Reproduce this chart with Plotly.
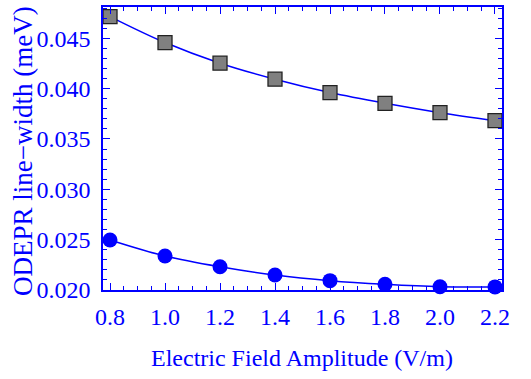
import plotly.graph_objects as go

field = [0.8, 1.0, 1.2, 1.4, 1.6, 1.8, 2.0, 2.2]
width_squares = [0.04715, 0.04457, 0.04252, 0.04093, 0.03960, 0.03854, 0.03761, 0.03682]
width_circles = [0.02497, 0.02338, 0.02231, 0.02149, 0.02093, 0.02057, 0.02033, 0.02031]
x_ticks = ["0.8", "1.0", "1.2", "1.4", "1.6", "1.8", "2.0", "2.2"]
y_tickvals = [0.020, 0.025, 0.030, 0.035, 0.040, 0.045]
y_ticks = ["0.020", "0.025", "0.030", "0.035", "0.040", "0.045"]

BLUE = "#0000FF"
FONT = "Liberation Serif"

fig = go.Figure()
fig.add_trace(go.Scatter(
    x=field, y=width_squares, mode="lines+markers",
    line=dict(color=BLUE, width=1.5, shape="spline"),
    marker=dict(symbol="square", size=14, color="#808080",
                line=dict(color="#222222", width=1.3)),
    showlegend=False, cliponaxis=False))
fig.add_trace(go.Scatter(
    x=field, y=width_circles, mode="lines+markers",
    line=dict(color=BLUE, width=1.5, shape="spline"),
    marker=dict(symbol="circle", size=15, color=BLUE),
    showlegend=False, cliponaxis=False))

axis_common = dict(
    showgrid=False, zeroline=False, showline=True, linecolor=BLUE, linewidth=1.5,
    mirror="allticks", ticks="inside", tickcolor=BLUE, tickwidth=1.3, automargin=False,
    tickfont=dict(family=FONT, size=24, color=BLUE),
)

fig.update_xaxes(
    range=[0.7745, 2.2255], tickvals=field, ticktext=x_ticks,
    ticklen=7, ticklabelstandoff=4,
    minor=dict(ticks="inside", dtick=0.05, tick0=0.8, ticklen=4, tickcolor=BLUE, tickwidth=1),
    **axis_common)
fig.update_yaxes(
    range=[0.0200, 0.0481], tickvals=y_tickvals, ticktext=y_ticks,
    ticklen=7, ticklabelstandoff=6,
    minor=dict(ticks="inside", dtick=0.001, tick0=0.020, ticklen=4, tickcolor=BLUE, tickwidth=1),
    **axis_common)

fig.add_annotation(text="Electric Field Amplitude (V/m)", xref="paper", yref="paper",
                   x=(302 - 103) / 399, y=-(358 - 290) / 283, showarrow=False,
                   xanchor="center", yanchor="middle",
                   font=dict(family=FONT, size=24, color=BLUE))
fig.add_annotation(text="ODEPR line−width (meV)", xref="paper", yref="paper",
                   x=-(103 - 23) / 399, y=(290 - 151) / 283, showarrow=False, textangle=-90,
                   xanchor="center", yanchor="middle",
                   font=dict(family=FONT, size=27, color=BLUE))

fig.update_layout(
    width=531, height=379,
    margin=dict(l=103, r=29, t=7, b=89),
    plot_bgcolor="white", paper_bgcolor="white",
)

fig.write_html("out.html", config={"displayModeBar": False},
               post_script="document.body.style.margin='0';")
